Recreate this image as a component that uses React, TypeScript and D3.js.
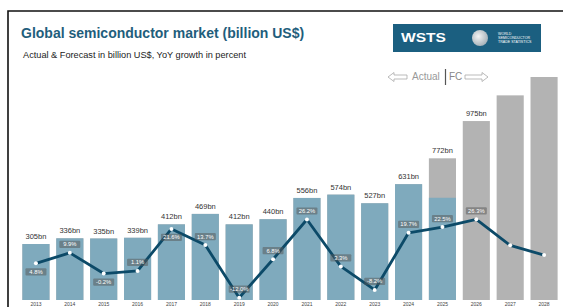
import React, { useEffect, useRef } from 'react';
import * as d3 from 'd3';

// Years on the x axis
const years = ['2013', '2014', '2015', '2016', '2017', '2018', '2019', '2020',
  '2021', '2022', '2023', '2024', '2025', '2026', '2027', '2028'];

// Market size in billion US$ (whole bar)
const marketValues = [305, 336, 335, 339, 412, 469, 412, 440, 556, 574, 527, 631, 772, 975, 1115, 1215];

// Portion already "actual" (blue); the rest is forecast (gray)
const actualValues = [305, 336, 335, 339, 412, 469, 412, 440, 556, 574, 527, 631, 557, 0, 0, 0];

// Value labels above bars
const valueLabels = ['305bn', '336bn', '335bn', '339bn', '412bn', '469bn', '412bn', '440bn',
  '556bn', '574bn', '527bn', '631bn', '772bn', '975bn', '', ''];

// YoY growth in percent
const growth = [4.8, 9.9, -0.2, 1.1, 21.6, 13.7, -12.0, 6.8, 26.2, 3.3, -8.2, 19.7, 22.5, 26.3, 13.6, 8.8];
const growthLabels = ['4.8%', '9.9%', '-0.2%', '1.1%', '21.6%', '13.7%', '-12.0%', '6.8%',
  '26.2%', '3.3%', '-8.2%', '19.7%', '22.5%', '26.3%', '', ''];
const labelSide = [1, -1, 1, -1, 1, -1, -1, -1, -1, -1, -1, -1, -1, -1, 0, 0];

const font = "'Liberation Sans', Arial, sans-serif";

function App() {
  const ref = useRef(null);

  useEffect(() => {
    if (!ref.current) return;
    const svg = d3.select(ref.current);
    svg.selectAll('*').remove();

    // slide frame
    svg.append('path')
      .attr('d', 'M8,307 L8,11 L563,11')
      .attr('fill', 'none')
      .attr('stroke', '#111')
      .attr('stroke-width', 1.6);

    // title
    svg.append('text')
      .attr('x', 21).attr('y', 38)
      .attr('font-family', font)
      .attr('font-size', 14)
      .attr('font-weight', 'bold')
      .attr('fill', '#1f5e7c')
      .text('Global semiconductor market (billion US$)');

    svg.append('text')
      .attr('x', 23).attr('y', 58)
      .attr('font-family', font)
      .attr('font-size', 9.2)
      .attr('fill', '#222')
      .text('Actual & Forecast in billion US$, YoY growth in percent');

    // WSTS logo
    const logo = svg.append('g');
    logo.append('rect')
      .attr('x', 393).attr('y', 24).attr('width', 148).attr('height', 28)
      .attr('fill', '#1b5f80');
    logo.append('text')
      .attr('x', 401).attr('y', 42)
      .attr('font-family', font)
      .attr('font-size', 13)
      .attr('font-weight', 'bold')
      .attr('fill', '#fff')
      .attr('textLength', 45)
      .attr('lengthAdjust', 'spacingAndGlyphs')
      .text('WSTS');
    const grad = svg.append('defs').append('radialGradient')
      .attr('id', 'globe').attr('cx', '40%').attr('cy', '40%').attr('r', '60%');
    grad.append('stop').attr('offset', '0%').attr('stop-color', '#f4f4f4');
    grad.append('stop').attr('offset', '100%').attr('stop-color', '#a9b4bb');
    logo.append('circle')
      .attr('cx', 480).attr('cy', 38).attr('r', 8)
      .attr('fill', 'url(#globe)');
    ['WORLD', 'SEMICONDUCTOR', 'TRADE STATISTICS'].forEach((t, i) => {
      logo.append('text')
        .attr('x', 498).attr('y', 35 + i * 4)
        .attr('font-family', font)
        .attr('font-size', 3.6)
        .attr('fill', '#fff')
        .text(t);
    });

    // Actual | FC marker
    const ay = 77;
    svg.append('path')
      .attr('d', `M388,${ay} L394,${ay - 4.5} L394,${ay - 2} L407,${ay - 2} L407,${ay + 2} L394,${ay + 2} L394,${ay + 4.5} Z`)
      .attr('fill', 'none').attr('stroke', '#aaa').attr('stroke-width', 0.8);
    svg.append('text')
      .attr('x', 412).attr('y', ay + 3.3)
      .attr('font-family', font).attr('font-size', 10).attr('fill', '#999')
      .text('Actual');
    svg.append('line')
      .attr('x1', 445.5).attr('x2', 445.5).attr('y1', ay - 8).attr('y2', ay + 8)
      .attr('stroke', '#555').attr('stroke-width', 1.2);
    svg.append('text')
      .attr('x', 449).attr('y', ay + 3.3)
      .attr('font-family', font).attr('font-size', 10).attr('fill', '#888')
      .text('FC');
    svg.append('path')
      .attr('d', `M488,${ay} L482,${ay - 4.5} L482,${ay - 2} L465,${ay - 2} L465,${ay + 2} L482,${ay + 2} L482,${ay + 4.5} Z`)
      .attr('fill', 'none').attr('stroke', '#aaa').attr('stroke-width', 0.8);

    // scales
    const x = d3.scaleBand()
      .domain(years)
      .range([19, 561])
      .paddingInner(0.2)
      .paddingOuter(0.1);
    const y = d3.scaleLinear().domain([0, 1215]).range([300, 77]);
    const g = d3.scaleLinear().domain([-12, 26.3]).range([297.7, 219.3]);
    const cx = (d) => x(d) + x.bandwidth() / 2;

    // forecast bars (gray, full height)
    svg.selectAll('.fc')
      .data(years)
      .enter()
      .append('rect')
      .attr('x', (d) => x(d))
      .attr('y', (d, i) => y(marketValues[i]))
      .attr('width', x.bandwidth())
      .attr('height', (d, i) => y(0) - y(marketValues[i]))
      .attr('fill', '#b3b3b3');

    // actual bars (blue)
    svg.selectAll('.act')
      .data(years)
      .enter()
      .append('rect')
      .attr('x', (d) => x(d))
      .attr('y', (d, i) => y(actualValues[i]))
      .attr('width', x.bandwidth())
      .attr('height', (d, i) => y(0) - y(actualValues[i]))
      .attr('fill', '#7faabd');

    // value labels
    svg.selectAll('.vl')
      .data(years)
      .enter()
      .append('text')
      .attr('x', (d) => cx(d))
      .attr('y', (d, i) => y(marketValues[i]) - 5)
      .attr('text-anchor', 'middle')
      .attr('font-family', font)
      .attr('font-size', 7.5)
      .attr('fill', '#333')
      .text((d, i) => valueLabels[i]);

    // year labels
    svg.selectAll('.yr')
      .data(years)
      .enter()
      .append('text')
      .attr('x', (d) => cx(d))
      .attr('y', 306)
      .attr('text-anchor', 'middle')
      .attr('font-family', font)
      .attr('font-size', 5)
      .attr('fill', '#444')
      .text((d) => d);

    // growth line
    const line = d3.line()
      .x((d, i) => cx(years[i]))
      .y((d) => g(d));
    svg.append('path')
      .datum(growth)
      .attr('d', line)
      .attr('fill', 'none')
      .attr('stroke', '#0c4a68')
      .attr('stroke-width', 2.8)
      .attr('stroke-linejoin', 'round');

    svg.selectAll('.pt')
      .data(growth)
      .enter()
      .append('circle')
      .attr('cx', (d, i) => cx(years[i]))
      .attr('cy', (d) => g(d))
      .attr('r', 2)
      .attr('fill', '#fff');

    // growth labels
    const gl = svg.selectAll('.gl')
      .data(growth.map((d, i) => ({ v: d, i })).filter((d) => growthLabels[d.i]))
      .enter()
      .append('g')
      .attr('transform', (d) => `translate(${cx(years[d.i])},${g(d.v) + labelSide[d.i] * 8.5})`);
    gl.append('rect')
      .attr('x', -10.5).attr('y', -3.6).attr('width', 21).attr('height', 7.2)
      .attr('rx', 1)
      .attr('fill', '#555')
      .attr('fill-opacity', 0.5);
    gl.append('text')
      .attr('y', 2)
      .attr('text-anchor', 'middle')
      .attr('font-family', font)
      .attr('font-size', 5.8)
      .attr('fill', '#fff')
      .text((d) => growthLabels[d.i]);
  }, []);

  return (
    <svg ref={ref} width={563} height={307}
      style={{ position: 'absolute', left: 0, top: 0, background: '#fff' }} />
  );
}

export default App;
